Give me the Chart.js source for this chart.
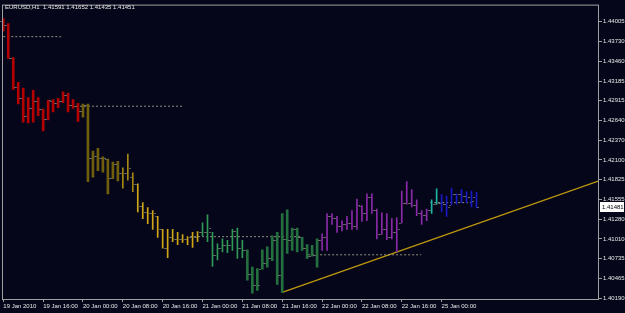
<!DOCTYPE html>
<html>
<head>
<meta charset="utf-8">
<script src="https://cdn.jsdelivr.net/npm/chart.js@4.4.1/dist/chart.umd.min.js"></script>
<style>
  html, body { margin: 0; padding: 0; background: #06061a; }
  #wrap { position: relative; width: 625px; height: 313px; }
  #head { position: absolute; left: 5px; top: 4px; color: #e8e8e8; font: 6px "Liberation Sans", Arial, sans-serif; white-space: pre; }
</style>
</head>
<body>
<div id="wrap">
  <canvas id="chart" width="625" height="313"></canvas>
  <div id="head">EURUSD,H1  1.41591 1.41652 1.41435 1.41451</div>
</div>
<script>
// H1 bars, 19 Jan 2010 08:00 .. 25 Jan 2010 07:00
var barHigh = [1.4405, 1.4398, 1.4351, 1.4317, 1.4309, 1.4296, 1.4306, 1.4296, 1.4280, 1.4292,
    1.4293, 1.4295, 1.4304, 1.4302, 1.4293, 1.4288, 1.4287, 1.4287, 1.4222, 1.4226,
    1.4214, 1.4211, 1.4207, 1.4208, 1.4199, 1.4218, 1.4192, 1.4177, 1.4151, 1.4144,
    1.4140, 1.4132, 1.4114, 1.4114, 1.4114, 1.4110, 1.4107, 1.4104, 1.4110, 1.4111,
    1.4123, 1.4134, 1.4110, 1.4094, 1.4101, 1.4099, 1.4114, 1.4116, 1.4099, 1.4086,
    1.4062, 1.4060, 1.4086, 1.4090, 1.4105, 1.4110, 1.4136, 1.4141, 1.4116, 1.4116,
    1.4103, 1.4093, 1.4092, 1.4101, 1.4108, 1.4136, 1.4136, 1.4132, 1.4126, 1.4132,
    1.4140, 1.4156, 1.4147, 1.4163, 1.4163, 1.4142, 1.4137, 1.4136, 1.4129, 1.4130,
    1.4167, 1.4180, 1.4169, 1.4155, 1.4140, 1.4142, 1.4155, 1.4170, 1.4162, 1.4160,
    1.4171, 1.4163, 1.4169, 1.4166, 1.4167, 1.41652];
var barLow = [1.4388, 1.4350, 1.4307, 1.4287, 1.4262, 1.4261, 1.4262, 1.4271, 1.4250, 1.4265,
    1.4276, 1.4282, 1.4289, 1.4276, 1.4281, 1.4263, 1.4269, 1.4180, 1.4186, 1.4195,
    1.4193, 1.4163, 1.4184, 1.4181, 1.4171, 1.4182, 1.4166, 1.4138, 1.4129, 1.4122,
    1.4114, 1.4103, 1.4088, 1.4075, 1.4097, 1.4093, 1.4096, 1.4093, 1.4089, 1.4097,
    1.4105, 1.4097, 1.4063, 1.4072, 1.4083, 1.4082, 1.4085, 1.4074, 1.4075, 1.4044,
    1.4026, 1.4030, 1.4059, 1.4062, 1.4071, 1.4038, 1.4027, 1.4081, 1.4085, 1.4083,
    1.4085, 1.4074, 1.4077, 1.4062, 1.4085, 1.4085, 1.4121, 1.4110, 1.4112, 1.4114,
    1.4114, 1.4114, 1.4125, 1.4126, 1.4136, 1.4101, 1.4107, 1.4100, 1.4101, 1.4083,
    1.4123, 1.4149, 1.4145, 1.4133, 1.4121, 1.4126, 1.4136, 1.4149, 1.4138, 1.4132,
    1.4148, 1.4149, 1.4151, 1.4151, 1.4145, 1.41435];
var barOpen = [1.4401, 1.4396, 1.4350, 1.4310, 1.4296, 1.4270, 1.4282, 1.4291, 1.4280, 1.4266,
    1.4291, 1.4289, 1.4291, 1.4300, 1.4285, 1.4284, 1.4278, 1.4285, 1.4212, 1.4215,
    1.4212, 1.4211, 1.4185, 1.4204, 1.4192, 1.4192, 1.4186, 1.4177, 1.4147, 1.4138,
    1.4137, 1.4132, 1.4114, 1.4089, 1.4104, 1.4101, 1.4101, 1.4101, 1.4103, 1.4104,
    1.4110, 1.4111, 1.4110, 1.4079, 1.4088, 1.4093, 1.4093, 1.4112, 1.4088, 1.4086,
    1.4053, 1.4037, 1.4060, 1.4068, 1.4074, 1.4099, 1.4051, 1.4101, 1.4099, 1.4114,
    1.4103, 1.4089, 1.4078, 1.4079, 1.4099, 1.4104, 1.4132, 1.4130, 1.4119, 1.4122,
    1.4123, 1.4119, 1.4147, 1.4136, 1.4159, 1.4141, 1.4108, 1.4115, 1.4103, 1.4111,
    1.4123, 1.4151, 1.4151, 1.4148, 1.4136, 1.4134, 1.4141, 1.4149, 1.4151, 1.4149,
    1.4148, 1.4163, 1.4163, 1.4160, 1.4159, 1.41591];
var barClose = [1.4396, 1.4350, 1.4310, 1.4296, 1.4270, 1.4282, 1.4291, 1.4280, 1.4266, 1.4292,
    1.4289, 1.4291, 1.4300, 1.4285, 1.4284, 1.4278, 1.4285, 1.4212, 1.4215, 1.4212,
    1.4212, 1.4185, 1.4204, 1.4192, 1.4192, 1.4199, 1.4177, 1.4147, 1.4138, 1.4137,
    1.4136, 1.4114, 1.4089, 1.4104, 1.4101, 1.4101, 1.4101, 1.4103, 1.4104, 1.4110,
    1.4111, 1.4116, 1.4079, 1.4088, 1.4093, 1.4093, 1.4112, 1.4088, 1.4086, 1.4053,
    1.4037, 1.4037, 1.4068, 1.4074, 1.4099, 1.4051, 1.4101, 1.4099, 1.4114, 1.4103,
    1.4089, 1.4078, 1.4079, 1.4099, 1.4104, 1.4132, 1.4130, 1.4119, 1.4122, 1.4123,
    1.4119, 1.4148, 1.4136, 1.4159, 1.4141, 1.4108, 1.4115, 1.4103, 1.4111, 1.4114,
    1.4151, 1.4151, 1.4148, 1.4136, 1.4134, 1.4141, 1.4149, 1.4151, 1.4149, 1.4145,
    1.4163, 1.4163, 1.4160, 1.4159, 1.4153, 1.41451];

var timeTickBars = [0, 8, 16, 24, 32, 40, 48, 56, 64, 72, 80, 88];
var timeLabels = ["19 Jan 2010", "19 Jan 16:00", "20 Jan 00:00", "20 Jan 08:00", "20 Jan 16:00",
    "21 Jan 00:00", "21 Jan 08:00", "21 Jan 16:00", "22 Jan 00:00", "22 Jan 08:00",
    "22 Jan 16:00", "25 Jan 00:00"];
var priceTicks = [1.44005, 1.43730, 1.43460, 1.43185, 1.42915, 1.42640, 1.42370, 1.42100,
    1.41825, 1.41555, 1.41280, 1.41010, 1.40735, 1.40465, 1.40190];
var priceMin = 1.40180, priceMax = 1.44242;
var barMin = -0.26, barMax = 119.6;
var bidPrice = 1.41481;

// dotted levels: price, first bar, last bar
var levelPrice = [1.4380, 1.4284, 1.4104, 1.4079, 1.4151];
var levelFrom = [0, 13.8, 37.5, 61.2, 85.7];
var levelTo = [11.6, 36.1, 60, 83.9, 94.5];

// trend line
var trendBars = [56, 119.6];
var trendPrices = [1.4027, 1.4181];

function barColor(i) {
    if (i <= 15) return "#b40000";
    if (i <= 23) return "#6f5e0c";
    if (i <= 26) return "#a38710";
    if (i <= 39) return "#cfa614";
    if (i <= 48) return "#2f9a55";
    if (i <= 63) return "#236f3d";
    if (i <= 85) return "#8a2aa8";
    if (i <= 87) return "#1fb5a5";
    return "#1818c4";
}
function isWide(i) {
    return i <= 23 || (i >= 49 && i <= 63);
}

var wideBars = barHigh.map(function (h, i) {
    return isWide(i) ? { x: i, y: [barLow[i], h] } : { x: i, y: null };
});
var thinBars = barHigh.map(function (h, i) {
    return isWide(i) ? { x: i, y: null } : { x: i, y: [barLow[i], h] };
});
var colors = barHigh.map(function (h, i) { return barColor(i); });

var datasets = [
    { type: "bar", data: wideBars, backgroundColor: colors, barThickness: 2, grouped: false },
    { type: "bar", data: thinBars, backgroundColor: colors, barThickness: 1, grouped: false }
];
levelPrice.forEach(function (p, k) {
    datasets.push({
        type: "line",
        data: [{ x: levelFrom[k], y: p }, { x: levelTo[k], y: p }],
        borderColor: "rgba(180,180,150,0.8)",
        borderWidth: 1,
        borderDash: [2, 2],
        pointRadius: 0
    });
});
datasets.push({
    type: "line",
    data: [{ x: trendBars[0], y: trendPrices[0] }, { x: trendBars[1], y: trendPrices[1] }],
    borderColor: "#c09a0e",
    borderWidth: 1.3,
    pointRadius: 0
});

// open / close ticks
var ohlcTicks = {
    id: "ohlcTicks",
    afterDatasetsDraw: function (chart) {
        var ctx = chart.ctx, x = chart.scales.x, y = chart.scales.y;
        ctx.save();
        ctx.fillStyle = "rgba(120,120,110,0.75)";
        barOpen.forEach(function (o, i) {
            var px = Math.round(x.getPixelForValue(i));
            ctx.fillRect(px - 3, Math.round(y.getPixelForValue(o)), 2, 1);
            ctx.fillRect(px + 1, Math.round(y.getPixelForValue(barClose[i])), 2, 1);
        });
        ctx.restore();
    }
};

// frame + bid label
var frame = {
    id: "frame",
    afterDraw: function (chart) {
        var ctx = chart.ctx, a = chart.chartArea, y = chart.scales.y;
        ctx.save();
        ctx.strokeStyle = "#a0a0a0";
        ctx.lineWidth = 1;
        ctx.strokeRect(a.left + 0.5, a.top + 0.5, a.right - a.left - 1, a.bottom - a.top);
        var py = Math.round(y.getPixelForValue(bidPrice)) + 2;
        ctx.fillStyle = "#ffffff";
        ctx.fillRect(a.right + 1, py - 5, 24, 10);
        ctx.fillStyle = "#000000";
        ctx.font = "6px 'Liberation Sans', Arial, sans-serif";
        ctx.textBaseline = "middle";
        ctx.fillText(bidPrice.toFixed(5), a.right + 3, py);
        ctx.restore();
    }
};

new Chart(document.getElementById("chart"), {
    type: "bar",
    data: { datasets: datasets },
    options: {
        responsive: false,
        animation: false,
        layout: { padding: { left: 2, top: 3 } },
        plugins: { legend: { display: false }, tooltip: { enabled: false } },
        scales: {
            x: {
                type: "linear",
                min: barMin,
                max: barMax,
                offset: false,
                afterBuildTicks: function (s) {
                    s.ticks = timeTickBars.map(function (v) { return { value: v }; });
                },
                afterFit: function (s) { s.height = 14; },
                grid: { display: true, offset: false, drawOnChartArea: false, drawTicks: true, tickLength: 3, color: "#a0a0a0" },
                border: { display: false },
                ticks: {
                    autoSkip: false,
                    maxRotation: 0,
                    align: "start",
                    padding: 1,
                    color: "#e8e8e8",
                    font: { family: "'Liberation Sans', Arial, sans-serif", size: 6 },
                    callback: function (v) {
                        var k = timeTickBars.indexOf(v);
                        return k >= 0 ? timeLabels[k] : "";
                    }
                }
            },
            y: {
                position: "right",
                min: priceMin,
                max: priceMax,
                afterBuildTicks: function (s) {
                    s.ticks = priceTicks.map(function (v) { return { value: v }; });
                },
                afterFit: function (s) { s.width = 26; },
                grid: { display: true, drawOnChartArea: false, drawTicks: true, tickLength: 3, color: "#a0a0a0" },
                border: { display: false },
                ticks: {
                    autoSkip: false,
                    padding: 1,
                    color: "#e8e8e8",
                    font: { family: "'Liberation Sans', Arial, sans-serif", size: 6 },
                    callback: function (v) { return v.toFixed(5); }
                }
            }
        }
    },
    plugins: [ohlcTicks, frame]
});
</script>
</body>
</html>
